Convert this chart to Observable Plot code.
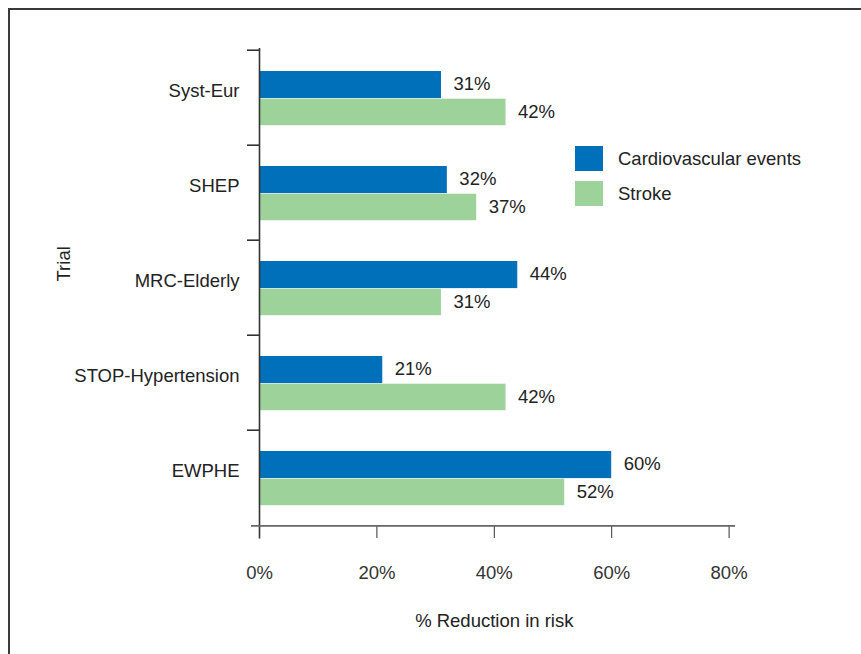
<!DOCTYPE html>
<html>
<head>
<meta charset="utf-8">
<script src="https://cdn.jsdelivr.net/npm/d3@7"></script>
<script src="https://cdn.jsdelivr.net/npm/@observablehq/plot@0.6"></script>
<style>
  html, body { margin: 0; padding: 0; background: #fff; }
  #wrap { position: relative; width: 861px; height: 654px; overflow: hidden; font-family: "Liberation Sans", Arial, sans-serif; }
  #border { position: absolute; left: 8px; top: 7.5px; width: 900px; height: 700px; border-top: 2px solid #3a3a3a; border-left: 2px solid #3a3a3a; }
  #chart { position: absolute; left: 0; top: 0; }
  #legend { position: absolute; left: 575px; top: 146px; font-size: 18.5px; color: #222; }
  .item { display: flex; align-items: center; height: 25px; margin-bottom: 10px; }
  .sw { width: 28px; height: 25px; margin-right: 15px; }
</style>
</head>
<body>
<div id="wrap">
  <div id="border"></div>
  <div id="chart"></div>
  <div id="legend"></div>
</div>
<script>
const trials = ["Syst-Eur", "SHEP", "MRC-Elderly", "STOP-Hypertension", "EWPHE"];
const cardio = [31, 32, 44, 21, 60];
const stroke = [42, 37, 31, 42, 52];
const seriesNames = ["Cardiovascular events", "Stroke"];
const seriesColors = ["#0070ba", "#9dd39b"];
const xTicks = [0, 20, 40, 60, 80];

const cvData = trials.map((t, i) => ({trial: t, value: cardio[i]}));
const stData = trials.map((t, i) => ({trial: t, value: stroke[i]}));

const H = 654, W = 861;
const mTop = 48, mBottom = 128, mLeft = 259, mRight = 132.4;
const band = (H - mTop - mBottom) / trials.length;
const half = band / 2;
const FS = 18.5;

const chart = Plot.plot({
  width: W,
  height: H,
  marginTop: mTop,
  marginBottom: mBottom,
  marginLeft: mLeft,
  marginRight: mRight,
  style: {fontFamily: "Liberation Sans, Arial, sans-serif", fontSize: FS + "px", color: "#333", background: "transparent"},
  x: {domain: [0, 80], ticks: xTicks, tickFormat: d => d + "%", tickSize: 12, tickPadding: 27, label: null},
  y: {domain: trials, padding: 0, axis: null},
  marks: [
    Plot.barX(cvData, {x: "value", y: "trial", fill: seriesColors[0], insetTop: 21, insetBottom: band - 48.7}),
    Plot.barX(stData, {x: "value", y: "trial", fill: seriesColors[1], insetTop: 48.7, insetBottom: band - 75.8}),
    Plot.text(cvData, {x: "value", y: "trial", text: d => d.value + "%", dx: 12, dy: -14, textAnchor: "start", fill: "#222", fontSize: FS}),
    Plot.text(stData, {x: "value", y: "trial", text: d => d.value + "%", dx: 12, dy: 14, textAnchor: "start", fill: "#222", fontSize: FS}),
    Plot.text(trials, {y: d => d, frameAnchor: "left", dx: -20, dy: -7, textAnchor: "end", fill: "#222", fontSize: FS}),
    // y-axis line
    Plot.ruleX([0], {stroke: "#333", strokeWidth: 1.6, insetBottom: -12.5}),
    // y-axis boundary ticks
    Plot.ruleY(trials, {y: d => d, x1: 0, x2: 0, insetLeft: -12, dy: -half, stroke: "#333", strokeWidth: 1.6}),
    // x-axis line
    Plot.ruleY([trials[trials.length - 1]], {dy: half, insetLeft: -8, insetRight: -6.5, stroke: "#666", strokeWidth: 1.8}),
    Plot.text(["% Reduction in risk"], {frameAnchor: "bottom", dy: 95, lineAnchor: "middle", fill: "#222", fontSize: FS}),
    Plot.text(["Trial"], {frameAnchor: "left", rotate: -90, dx: -195, dy: -6, fill: "#222", fontSize: FS})
  ]
});
document.getElementById("chart").appendChild(chart);

const legend = document.getElementById("legend");
seriesNames.forEach((name, i) => {
  const item = document.createElement("div");
  item.className = "item";
  const sw = document.createElement("div");
  sw.className = "sw";
  sw.style.background = seriesColors[i];
  const lab = document.createElement("span");
  lab.textContent = name;
  item.appendChild(sw);
  item.appendChild(lab);
  legend.appendChild(item);
});
</script>
</body>
</html>
